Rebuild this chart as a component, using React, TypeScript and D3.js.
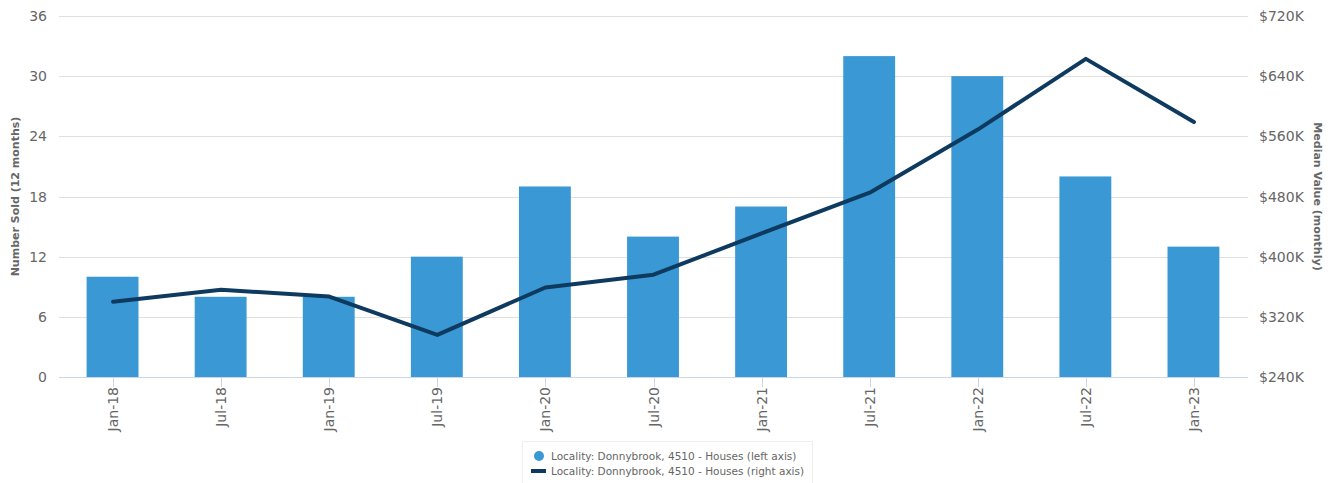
import * as d3 from 'd3';
import { useEffect, useRef } from 'react';

const categories = ['Jan-18', 'Jul-18', 'Jan-19', 'Jul-19', 'Jan-20', 'Jul-20', 'Jan-21', 'Jul-21', 'Jan-22', 'Jul-22', 'Jan-23'];
const numberSold = [10, 8, 8, 12, 19, 14, 17, 32, 30, 20, 13];
const medianValue = [340, 356, 347, 296, 359, 376, 431, 485, 569, 663, 579]; // $K
const leftTicks = [0, 6, 12, 18, 24, 30, 36];
const rightTicks = [240, 320, 400, 480, 560, 640, 720];
const seriesName = 'Locality: Donnybrook, 4510 - Houses';

const W = 1334;
const H = 483;
const FONT = '"DejaVu Sans", sans-serif';
const BAR = '#3a99d5';
const LINE = '#0f3a5f';

export default function App() {
  const svgRef = useRef<SVGSVGElement>(null);

  useEffect(() => {
    if (!svgRef.current) return;
    const svg = d3.select(svgRef.current);
    svg.selectAll('*').remove();

    const left = 59;
    const right = 1248;
    const top = 16;
    const bottom = 377;

    const x = d3.scaleBand<string>().domain(categories).range([left, right]).paddingInner(0.52).paddingOuter(0.26);
    const yL = d3.scaleLinear().domain([0, 36]).range([bottom, top]);
    const yR = d3.scaleLinear().domain([240, 720]).range([bottom, top]);

    // grid
    svg.append('g')
      .selectAll('line')
      .data(leftTicks.slice(1))
      .enter()
      .append('line')
      .attr('x1', left)
      .attr('x2', right)
      .attr('y1', (d) => Math.round(yL(d)) + 0.5)
      .attr('y2', (d) => Math.round(yL(d)) + 0.5)
      .attr('stroke', '#e0e0e0')
      .attr('stroke-width', 1);

    // bars
    svg.append('g')
      .selectAll('rect')
      .data(numberSold)
      .enter()
      .append('rect')
      .attr('x', (_d, i) => x(categories[i])! - 0.5)
      .attr('width', x.bandwidth())
      .attr('y', (d) => yL(d))
      .attr('height', (d) => bottom - yL(d))
      .attr('fill', BAR);

    // x axis line + ticks
    svg.append('line')
      .attr('x1', left)
      .attr('x2', right)
      .attr('y1', bottom + 0.5)
      .attr('y2', bottom + 0.5)
      .attr('stroke', '#ccd6eb');

    const cx = (c: string) => x(c)! + x.bandwidth() / 2;

    svg.append('g')
      .selectAll('line')
      .data(categories)
      .enter()
      .append('line')
      .attr('x1', (d) => Math.round(cx(d)) + 0.5)
      .attr('x2', (d) => Math.round(cx(d)) + 0.5)
      .attr('y1', bottom)
      .attr('y2', bottom + 10)
      .attr('stroke', '#ccd6eb');

    svg.append('g')
      .selectAll('text')
      .data(categories)
      .enter()
      .append('text')
      .attr('transform', (d) => `translate(${cx(d) + 5},${bottom + 10}) rotate(-90)`)
      .attr('text-anchor', 'end')
      .attr('font-family', FONT)
      .attr('font-size', 14)
      .attr('fill', '#666666')
      .text((d) => d);

    // line series
    const line = d3.line<number>()
      .x((_d, i) => cx(categories[i]))
      .y((d) => yR(d));

    svg.append('path')
      .datum(medianValue)
      .attr('d', line)
      .attr('fill', 'none')
      .attr('stroke', LINE)
      .attr('stroke-width', 4)
      .attr('stroke-linejoin', 'round')
      .attr('stroke-linecap', 'round');

    // left axis labels
    svg.append('g')
      .selectAll('text')
      .data(leftTicks)
      .enter()
      .append('text')
      .attr('x', 47)
      .attr('y', (d) => yL(d) + 5)
      .attr('text-anchor', 'end')
      .attr('font-family', FONT)
      .attr('font-size', 14)
      .attr('fill', '#666666')
      .text((d) => d);

    // right axis labels
    svg.append('g')
      .selectAll('text')
      .data(rightTicks)
      .enter()
      .append('text')
      .attr('x', 1259)
      .attr('y', (d) => yR(d) + 5)
      .attr('text-anchor', 'start')
      .attr('font-family', FONT)
      .attr('font-size', 14)
      .attr('fill', '#666666')
      .text((d) => `$${d}K`);

    // axis titles
    svg.append('text')
      .attr('transform', `translate(19,${(top + bottom) / 2}) rotate(-90)`)
      .attr('text-anchor', 'middle')
      .attr('font-family', FONT)
      .attr('font-size', 11)
      .attr('font-weight', 'bold')
      .attr('fill', '#666666')
      .text('Number Sold (12 months)');

    svg.append('text')
      .attr('transform', `translate(1314,${(top + bottom) / 2}) rotate(90)`)
      .attr('text-anchor', 'middle')
      .attr('font-family', FONT)
      .attr('font-size', 11)
      .attr('font-weight', 'bold')
      .attr('fill', '#666666')
      .text('Median Value (monthly)');

    // legend
    const lg = svg.append('g');
    lg.append('rect')
      .attr('x', 522.5)
      .attr('y', 441.5)
      .attr('width', 290)
      .attr('height', 48)
      .attr('fill', 'white')
      .attr('stroke', '#eeeeee');
    lg.append('circle').attr('cx', 539).attr('cy', 456).attr('r', 5).attr('fill', BAR);
    lg.append('text')
      .attr('x', 551)
      .attr('y', 460)
      .attr('font-family', FONT)
      .attr('font-size', 10.5)
      .attr('fill', '#666666')
      .text(`${seriesName} (left axis)`);
    lg.append('line')
      .attr('x1', 531)
      .attr('x2', 546)
      .attr('y1', 471)
      .attr('y2', 471)
      .attr('stroke', LINE)
      .attr('stroke-width', 4);
    lg.append('text')
      .attr('x', 551)
      .attr('y', 475)
      .attr('font-family', FONT)
      .attr('font-size', 10.5)
      .attr('fill', '#666666')
      .text(`${seriesName} (right axis)`);
  }, []);

  return (
    <div style={{ position: 'absolute', left: 0, top: 0, width: W, height: H, background: 'white' }}>
      <svg ref={svgRef} width={W} height={H} />
    </div>
  );
}
